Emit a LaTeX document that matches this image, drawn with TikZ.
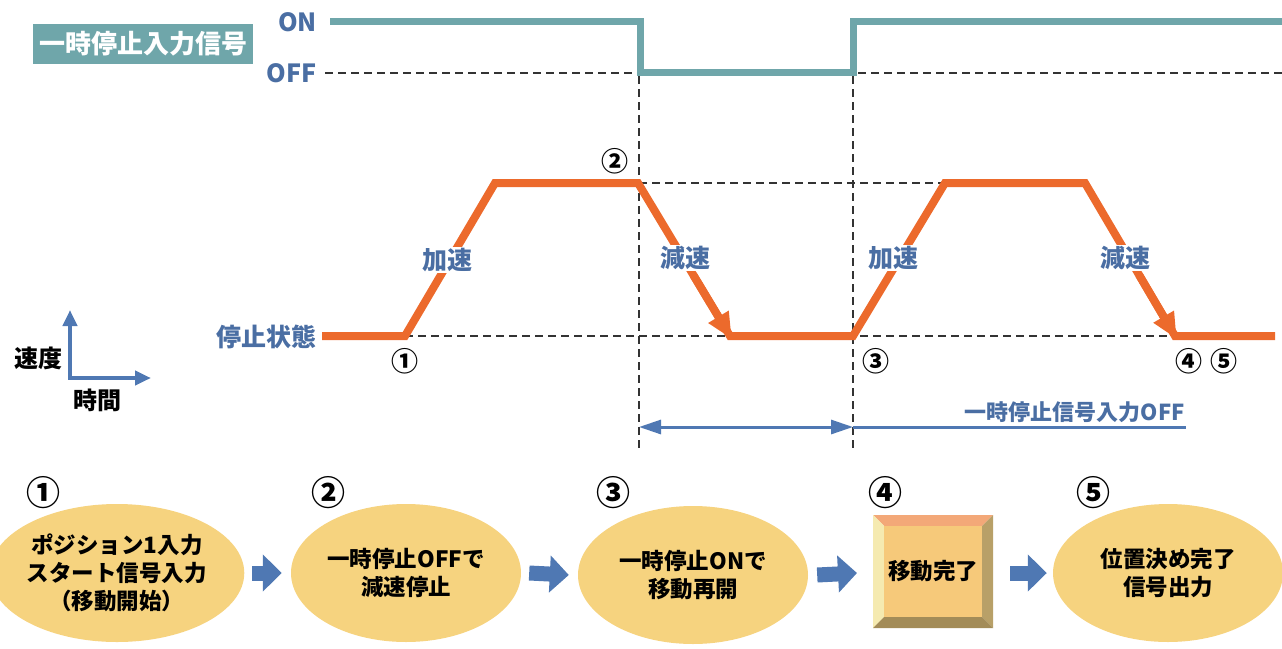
\documentclass[tikz,border=0pt]{standalone}
\usepackage{fontspec}
\setmainfont{Noto Sans CJK JP}
\usetikzlibrary{shapes.geometric,arrows.meta,calc}
\definecolor{sigteal}{HTML}{6FA6AA}
\definecolor{lblblue}{HTML}{4A6EA3}
\definecolor{velorange}{HTML}{EC6A2C}
\definecolor{arrblue}{HTML}{4F78B3}
\definecolor{ellfill}{HTML}{F6D37F}
\definecolor{boxin}{HTML}{F6C97A}
\definecolor{bevtop}{HTML}{F3A878}
\definecolor{bevleft}{HTML}{F5EAB0}
\definecolor{bevright}{HTML}{B8A068}
\definecolor{bevbot}{HTML}{A38C58}
\begin{document}
\begin{tikzpicture}[x=1pt,y=-1pt,
  guide/.style={black!80,line width=1.4pt,dash pattern=on 8pt off 5pt},
  sig/.style={sigteal,line width=7pt,line join=miter},
  vel/.style={velorange,line width=8pt,line join=miter},
  bluelbl/.style={text=lblblue,font=\fontsize{25}{28}\selectfont\bfseries,inner sep=1pt},
  onlbl/.style={bluelbl,fill=white},
  numlbl/.style={text=black,font=\fontsize{27}{29}\selectfont\bfseries,inner sep=0pt},
  bignum/.style={text=black,font=\fontsize{34}{36}\selectfont\bfseries,inner sep=0pt},
  blacklbl/.style={text=black,font=\fontsize{24}{26}\selectfont\bfseries,inner sep=0pt},
  stepell/.style={ellipse,fill=ellfill,minimum width=230pt,minimum height=138pt,align=center,
     font=\fontsize{22.5}{28}\selectfont\bfseries,inner sep=0pt},
  blockarr/.style={arrblue,line width=15pt,-{Triangle[length=19pt,width=36pt]}},
  axisarr/.style={arrblue,line width=4pt,-{Triangle[length=16pt,width=14pt]}},
  spanarr/.style={arrblue,line width=3pt}
]
\useasboundingbox (0,0) rectangle (1282,648);

% ---- signal ----
\node[fill=sigteal,text=white,minimum width=220pt,minimum height=40pt,inner sep=0pt,
  font=\fontsize{26}{28}\selectfont\bfseries] (siglabel) at (143,44) {一時停止入力信号};
\node[bluelbl,anchor=east] (on) at (318,22) {ON};
\node[bluelbl,anchor=east] (off) at (318,73) {OFF};

\draw[guide] (325,73) -- (1282,73);
\draw[guide] (639,76) -- (639,452);
\draw[guide] (853,76) -- (853,452);
\draw[guide] (639,183) -- (945,183);
\draw[guide] (405,336) -- (1175,336);

\coordinate (s0) at (330,21);
\coordinate (s1) at (640,21);
\coordinate (s2) at (640,72);
\coordinate (s3) at (853,72);
\coordinate (s4) at (853,21);
\coordinate (s5) at (1290,21);
\draw[sig] (s0) -- (s1) -- (s2) -- (s3) -- (s4) -- (s5);

% ---- velocity ----
\coordinate (v0) at (322,336);
\coordinate (v1) at (405,336);
\coordinate (v2) at (495,183);
\coordinate (v3) at (638,183);
\coordinate (v4) at (730,336);
\coordinate (v5) at (853,336);
\coordinate (v6) at (945,183);
\coordinate (v7) at (1085,183);
\coordinate (v8) at (1175,336);
\coordinate (v9) at (1275,336);
\draw[vel] (v0) -- (v1) -- (v2) -- (v3) -- (v4) -- (v5) -- (v6) -- (v7) -- (v8) -- (v9);
\draw[vel,-{Triangle[length=26pt,width=22pt]}] ($(v3)!0.6!(v4)$) -- ($(v3)!1.02!(v4)$);
\draw[vel,-{Triangle[length=26pt,width=22pt]}] ($(v7)!0.6!(v8)$) -- ($(v7)!1.02!(v8)$);

\node[onlbl] (acc1) at (447,260) {加速};
\node[onlbl] (dec1) at (685,258) {減速};
\node[onlbl] (acc2) at (893,258) {加速};
\node[onlbl] (dec2) at (1125,258) {減速};
\node[bluelbl,anchor=east] (stop) at (318,337) {停止状態};

\node[numlbl] (n1) at (405,361) {①};
\node[numlbl] (n2) at (615,161) {②};
\node[numlbl] (n3) at (876,361) {③};
\node[numlbl] (n4) at (1189,361) {④};
\node[numlbl] (n5) at (1224,361) {⑤};

% ---- axis icon ----
\coordinate (ax0) at (70,378);
\coordinate (axy) at (70,310);
\coordinate (axx) at (151,378);
\draw[axisarr] (ax0) -- (axy);
\draw[axisarr] ($(ax0)+(-2,0)$) -- (axx);
\node[blacklbl] (spd) at (38,358) {速度};
\node[blacklbl] (tim) at (97,400) {時間};

% ---- span arrow ----
\coordinate (p0) at (639,427);
\coordinate (p1) at (853,427);
\coordinate (p2) at (1186,427);
\draw[spanarr,{Triangle[length=22pt,width=14pt]}-{Triangle[length=22pt,width=14pt]}] (p0) -- (p1);
\draw[spanarr] (p1) -- (p2);
\node[bluelbl,font=\fontsize{22}{24}\selectfont\bfseries,anchor=south east] (offlbl) at (1186,424) {一時停止信号入力OFF};

% ---- steps ----
\node[stepell] (e1) at (117,573) {ポジション1入力\\スタート信号入力\\（移動開始）};
\node[stepell] (e2) at (406,573) {一時停止OFFで\\減速停止};
\node[stepell] (e3) at (693,575) {一時停止ONで\\移動再開};
\node[stepell] (e5) at (1168,573) {位置決め完了\\信号出力};

% bevel box
\fill[bevtop] (873,515) -- (993,515) -- (982,526) -- (884,526) -- cycle;
\fill[bevleft] (873,515) -- (884,526) -- (884,617) -- (873,628) -- cycle;
\fill[bevright] (993,515) -- (993,628) -- (982,617) -- (982,526) -- cycle;
\fill[bevbot] (873,628) -- (993,628) -- (982,617) -- (884,617) -- cycle;
\node[fill=boxin,minimum width=98pt,minimum height=91pt,inner sep=0pt,
  font=\fontsize{22.5}{26}\selectfont\bfseries] (b4) at (933,571.5) {移動完了};
\coordinate (b4w) at (873,573);
\coordinate (b4e) at (993,573);

\node[bignum] (c1) at (43,493) {①};
\node[bignum] (c2) at (328,493) {②};
\node[bignum] (c3) at (613,493) {③};
\node[bignum] (c4) at (885,493) {④};
\node[bignum] (c5) at (1093,493) {⑤};

\draw[blockarr] ($(e1.east)+(8,0)$) -- ($(e2.west)+(-9,0)$);
\draw[blockarr] ($(e2.east)+(8,0)$) -- ($(e3.west)+(-9,0)$);
\draw[blockarr] ($(e3.east)+(9,0)$) -- ($(b4w)+(-16,0)$);
\draw[blockarr] ($(b4e)+(17,0)$) -- ($(e5.west)+(-6,0)$);
\end{tikzpicture}
\end{document}
